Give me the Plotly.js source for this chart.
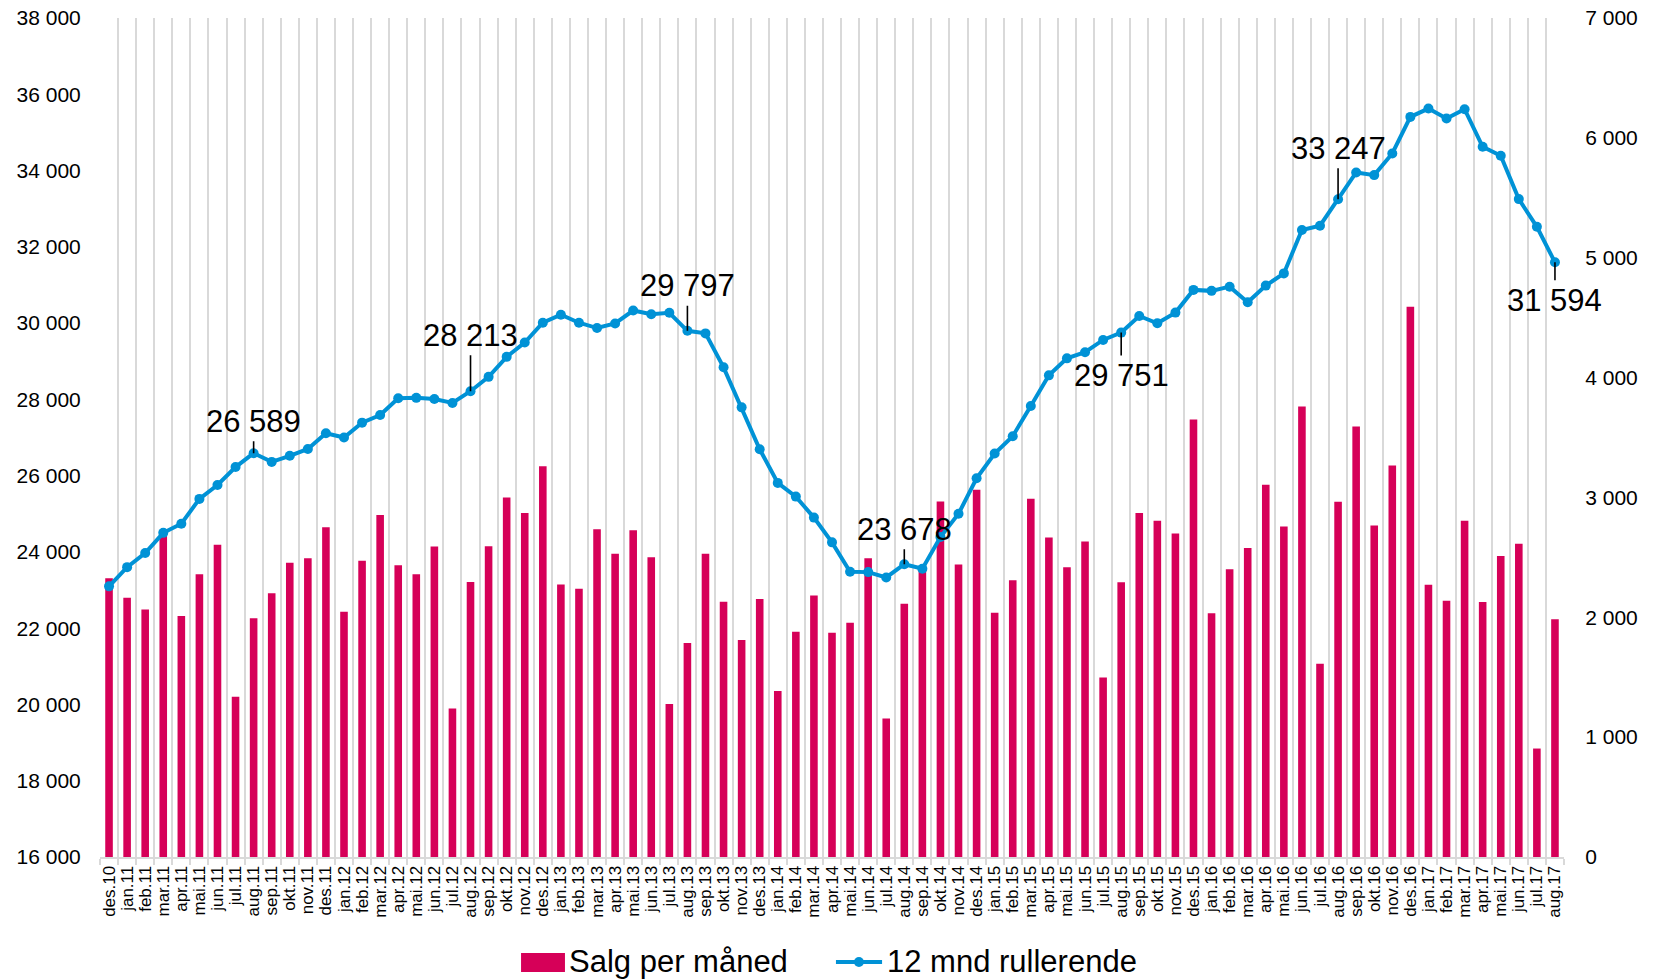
<!DOCTYPE html>
<html>
<head>
<meta charset="utf-8">
<script src="https://cdn.plot.ly/plotly-3.0.1.min.js"></script>
<style>
  html, body { margin: 0; padding: 0; background: #ffffff; }
  #chart { width: 1660px; height: 979px; }
</style>
</head>
<body>
<div id="chart"></div>
<script>
// ---- Data -------------------------------------------------------------
const months = [
  "des.10",
  "jan.11","feb.11","mar.11","apr.11","mai.11","jun.11","jul.11","aug.11","sep.11","okt.11","nov.11","des.11",
  "jan.12","feb.12","mar.12","apr.12","mai.12","jun.12","jul.12","aug.12","sep.12","okt.12","nov.12","des.12",
  "jan.13","feb.13","mar.13","apr.13","mai.13","jun.13","jul.13","aug.13","sep.13","okt.13","nov.13","des.13",
  "jan.14","feb.14","mar.14","apr.14","mai.14","jun.14","jul.14","aug.14","sep.14","okt.14","nov.14","des.14",
  "jan.15","feb.15","mar.15","apr.15","mai.15","jun.15","jul.15","aug.15","sep.15","okt.15","nov.15","des.15",
  "jan.16","feb.16","mar.16","apr.16","mai.16","jun.16","jul.16","aug.16","sep.16","okt.16","nov.16","des.16",
  "jan.17","feb.17","mar.17","apr.17","mai.17","jun.17","jul.17","aug.17"
];

// Salg per måned (right axis)
const salgPerMaaned = [
  2325,
  2162, 2065, 2680, 2010, 2360, 2605, 1338, 1991, 2200, 2455, 2492, 2752,
  2047, 2471, 2853, 2435, 2360, 2590, 1240, 2295, 2592, 3000, 2870, 3260,
  2273, 2238, 2735, 2530, 2726, 2500, 1276, 1785, 2530, 2130, 1810, 2153,
  1384, 1880, 2182, 1870, 1955, 2493, 1155, 2112, 2425, 2965, 2440, 3065,
  2038, 2310, 2990, 2665, 2417, 2632, 1498, 2293, 2870, 2806, 2700, 3650,
  2033, 2400, 2578, 3106, 2757, 3758, 1613, 2964, 3592, 2766, 3267, 4590,
  2272, 2137, 2806, 2128, 2511, 2614, 905, 1983
];

// 12 mnd rullerende (left axis)
const rullerende12 = [
  23097,
  23600, 23970, 24500, 24740, 25390, 25755, 26225, 26589, 26360, 26520, 26700, 27110,
  27000, 27390, 27590, 28030, 28040, 28010, 27905, 28213, 28590, 29115, 29490, 30010,
  30220, 30010, 29870, 29990, 30330, 30230, 30270, 29797, 29730, 28840, 27790, 26690,
  25810, 25450, 24900, 24250, 23480, 23470, 23330, 23678, 23560, 24390, 25000, 25930,
  26580, 27035, 27825, 28630, 29075, 29235, 29558, 29751, 30187, 29995, 30275, 30870,
  30845, 30955, 30546, 30983, 31303, 32440, 32553, 33247, 33950, 33880, 34447, 35407,
  35625, 35363, 35608, 34622, 34386, 33251, 32525, 31594
];

// Labelled points of the rolling series (every August)
const labelledMonths = ["aug.11","aug.12","aug.13","aug.14","aug.15","aug.16","aug.17"];

// ---- Chart ------------------------------------------------------------
const fmt = v => String(Math.round(v)).replace(/\B(?=(\d{3})+(?!\d))/g, " ");

const BAR_COLOR = "rgb(214,0,88)";
const LINE_COLOR = "rgb(0,146,214)";
const GRID = "#d9d9d9";
const FONT = "Liberation Sans, Arial, sans-serif";

const traces = [
  {
    type: "bar",
    name: "Salg per måned",
    x: months,
    y: salgPerMaaned,
    xaxis: "x",
    yaxis: "y",
    marker: { color: BAR_COLOR, line: { width: 0 } },
    width: 0.42,
    hoverinfo: "skip"
  },
  {
    type: "scatter",
    mode: "lines+markers",
    name: "12 mnd rullerende",
    x: months,
    y: rullerende12,
    xaxis: "x",
    yaxis: "y2",
    line: { color: LINE_COLOR, width: 4 },
    marker: { color: LINE_COLOR, size: 10 },
    hoverinfo: "skip"
  }
];

// offsets of the label boxes relative to their points (pixels)
const labelOffsets = [-32, -56, -45, -35, 43, -51, 38];

const annotations = labelledMonths.map((m, k) => {
  const idx = months.indexOf(m);
  return {
    x: m,
    y: rullerende12[idx],
    xref: "x",
    yref: "y2",
    text: fmt(rullerende12[idx]),
    showarrow: true,
    arrowhead: 0,
    arrowwidth: 1.6,
    arrowcolor: "#000000",
    ax: 0,
    ay: labelOffsets[k],
    borderpad: 2,
    font: { family: FONT, size: 31, color: "#000000" }
  };
});

// Legend drawn below the plot (paper coordinates)
const LEG_Y = -0.1251;
annotations.push(
  {
    xref: "paper", yref: "paper", x: 0.3190, y: LEG_Y,
    xanchor: "left", yanchor: "middle", showarrow: false,
    text: traces[0].name,
    font: { family: FONT, size: 31, color: "#000000" }
  },
  {
    xref: "paper", yref: "paper", x: 0.5362, y: LEG_Y,
    xanchor: "left", yanchor: "middle", showarrow: false,
    text: traces[1].name,
    font: { family: FONT, size: 31, color: "#000000" }
  }
);

const shapes = [
  {
    type: "rect", xref: "paper", yref: "paper",
    x0: 0.2876, x1: 0.3176, y0: -0.1371, y1: -0.1144,
    fillcolor: BAR_COLOR, line: { width: 0 }
  },
  {
    type: "line", xref: "paper", yref: "paper",
    x0: 0.5027, x1: 0.5342, y0: LEG_Y, y1: LEG_Y,
    line: { color: LINE_COLOR, width: 4 }
  },
  {
    type: "circle", xref: "paper", yref: "paper",
    xsizemode: "pixel", ysizemode: "pixel",
    xanchor: 0.5184, yanchor: LEG_Y,
    x0: -5, x1: 5, y0: -5, y1: 5,
    fillcolor: LINE_COLOR, line: { width: 0 }
  }
];

const layout = {
  width: 1660,
  height: 979,
  margin: { l: 100, r: 96, t: 18, b: 122, pad: 0 },
  paper_bgcolor: "#ffffff",
  plot_bgcolor: "#ffffff",
  font: { family: FONT, color: "#000000", size: 21 },
  separators: ", ",
  showlegend: false,
  bargap: 0.58,
  xaxis: {
    type: "category",
    categoryorder: "array",
    categoryarray: months,
    range: [-0.5, months.length - 0.5],
    autorange: false,
    tickmode: "array",
    tickvals: months,
    ticktext: months,
    tickson: "boundaries",
    showgrid: true,
    gridcolor: GRID,
    gridwidth: 2,
    showline: true,
    linecolor: GRID,
    linewidth: 2,
    ticks: "outside",
    ticklen: 6,
    tickwidth: 2,
    tickcolor: GRID,
    tickangle: -90,
    tickfont: { family: FONT, size: 17, color: "#000000" },
    zeroline: false,
    fixedrange: true
  },
  yaxis: {
    side: "right",
    range: [0, 7000],
    autorange: false,
    dtick: 1000,
    tick0: 0,
    tickformat: ",d",
    showgrid: false,
    zeroline: false,
    showline: false,
    ticks: "outside",
    ticklen: 16,
    tickcolor: "rgba(0,0,0,0)",
    tickfont: { family: FONT, size: 21, color: "#000000" },
    fixedrange: true
  },
  yaxis2: {
    side: "left",
    overlaying: "y",
    range: [16000, 38000],
    autorange: false,
    dtick: 2000,
    tick0: 16000,
    tickformat: ",d",
    showgrid: false,
    zeroline: false,
    showline: false,
    ticks: "outside",
    ticklen: 14,
    tickcolor: "rgba(0,0,0,0)",
    tickfont: { family: FONT, size: 21, color: "#000000" },
    fixedrange: true
  },
  annotations: annotations,
  shapes: shapes,
  hovermode: false
};

Plotly.newPlot("chart", traces, layout, { displayModeBar: false, staticPlot: true });
</script>
</body>
</html>
